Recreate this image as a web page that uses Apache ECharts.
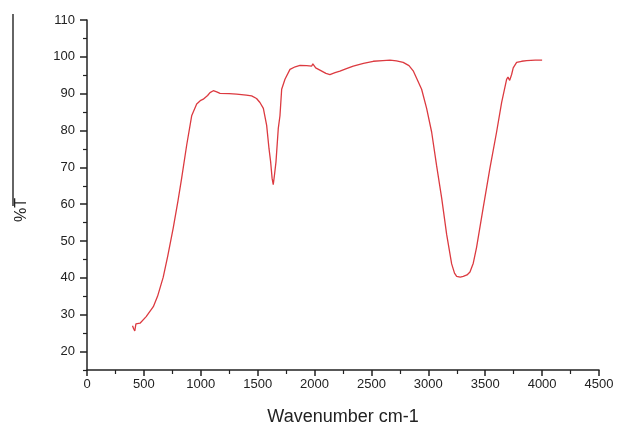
<!DOCTYPE html>
<html>
<head>
<meta charset="utf-8">
<script src="https://cdn.jsdelivr.net/npm/echarts@6/dist/echarts.min.js"></script>
<style>
  html, body { margin: 0; padding: 0; background: #fff; }
  #main { width: 619px; height: 431px; }
</style>
</head>
<body>
<div id="main"></div>
<script>
// wavenumber (cm-1)
var wavenumber = [400, 410, 420, 430, 466, 520, 583, 620, 670, 710, 758, 800, 832, 876, 920, 964,
    1000, 1022, 1060, 1081, 1110, 1140, 1169, 1250, 1315, 1400, 1447, 1490, 1520, 1550, 1579,
    1600, 1614, 1627, 1637, 1648, 1661, 1681, 1696, 1711, 1740, 1784, 1830, 1872, 1930, 1975,
    1985, 2010, 2047, 2100, 2135, 2180, 2223, 2280, 2340, 2430, 2516, 2600, 2663, 2720, 2779,
    2830, 2867, 2900, 2941, 2985, 3029, 3072, 3117, 3161, 3205, 3230, 3249, 3280, 3307,
    3340, 3366, 3395, 3424, 3482, 3541, 3600, 3644, 3688, 3700, 3715, 3732, 3746, 3776, 3820,
    3864, 3940, 4000];
// transmittance %T
var transmittance = [27.0, 26.2, 25.6, 27.5, 27.7, 29.5, 32.2, 35.0, 40.2, 46.0, 53.6, 61.0, 67.1, 76.0, 84.0, 87.2,
    88.2, 88.5, 89.5, 90.3, 90.8, 90.5, 90.1, 90.0, 89.9, 89.6, 89.4, 88.7, 87.6, 86.0, 81.4,
    75.0, 71.5, 67.0, 65.3, 68.0, 71.5, 80.5, 84.0, 91.2, 93.9, 96.6, 97.3, 97.7, 97.6, 97.5,
    98.1, 97.0, 96.4, 95.5, 95.2, 95.7, 96.1, 96.8, 97.5, 98.2, 98.8, 99.0, 99.1, 98.9, 98.5,
    97.6, 96.2, 94.0, 91.2, 86.0, 79.6, 70.6, 61.7, 51.8, 43.8, 41.3, 40.4, 40.2, 40.4,
    40.8, 41.6, 44.0, 48.3, 59.0, 69.7, 79.6, 87.6, 93.9, 94.5, 93.6, 95.2, 97.0, 98.5, 98.8,
    99.0, 99.1, 99.1];
var yMajor = [20, 30, 40, 50, 60, 70, 80, 90, 100, 110];
var yMinor = [15, 25, 35, 45, 55, 65, 75, 85, 95, 105];

var points = wavenumber.map(function (w, i) { return [w, transmittance[i]]; });
var axisCol = '#222';
var plain = function (v) { return String(v); };

var chart = echarts.init(document.getElementById('main'));
chart.setOption({
    animation: false,
    grid: { left: 87, right: 20, top: 20, bottom: 57 },
    xAxis: {
        type: 'value', min: 0, max: 4500, interval: 500,
        name: 'Wavenumber cm-1', nameLocation: 'middle', nameGap: 38,
        nameTextStyle: { fontFamily: 'Liberation Sans', fontSize: 18, color: axisCol },
        axisLine: { lineStyle: { color: axisCol, width: 1.5 } },
        axisTick: { length: 6, lineStyle: { color: axisCol, width: 1.5 } },
        minorTick: { show: true, splitNumber: 2, length: 4, lineStyle: { color: axisCol, width: 1.2 } },
        axisLabel: { margin: 8, formatter: plain, fontFamily: 'Liberation Sans', fontSize: 13, color: axisCol },
        splitLine: { show: false }
    },
    yAxis: [{
        type: 'value', min: 15, max: 110,
        axisLine: { show: true, lineStyle: { color: axisCol, width: 1.5 } },
        axisTick: { show: true, length: 7, customValues: yMajor, lineStyle: { color: axisCol, width: 1.5 } },
        axisLabel: { margin: 12, customValues: yMajor, formatter: plain, fontFamily: 'Liberation Sans', fontSize: 13, color: axisCol },
        splitLine: { show: false }
    }, {
        type: 'value', min: 15, max: 110, position: 'left',
        axisLine: { show: false },
        axisTick: { show: true, length: 4, customValues: yMinor, lineStyle: { color: axisCol, width: 1.2 } },
        axisLabel: { show: false },
        splitLine: { show: false }
    }],
    graphic: [{
        type: 'line', shape: { x1: 13, y1: 14, x2: 13, y2: 206 },
        style: { stroke: '#111', lineWidth: 1.3 }
    }, {
        type: 'text', x: 14, y: 222, rotation: Math.PI / 2,
        style: { text: '%T', font: '16px "Liberation Sans"', fill: axisCol, textAlign: 'left', textVerticalAlign: 'top' }
    }],
    series: [{
        type: 'line', data: points, showSymbol: false,
        lineStyle: { color: '#dc3a40', width: 1.3 }
    }]
});
</script>
</body>
</html>
